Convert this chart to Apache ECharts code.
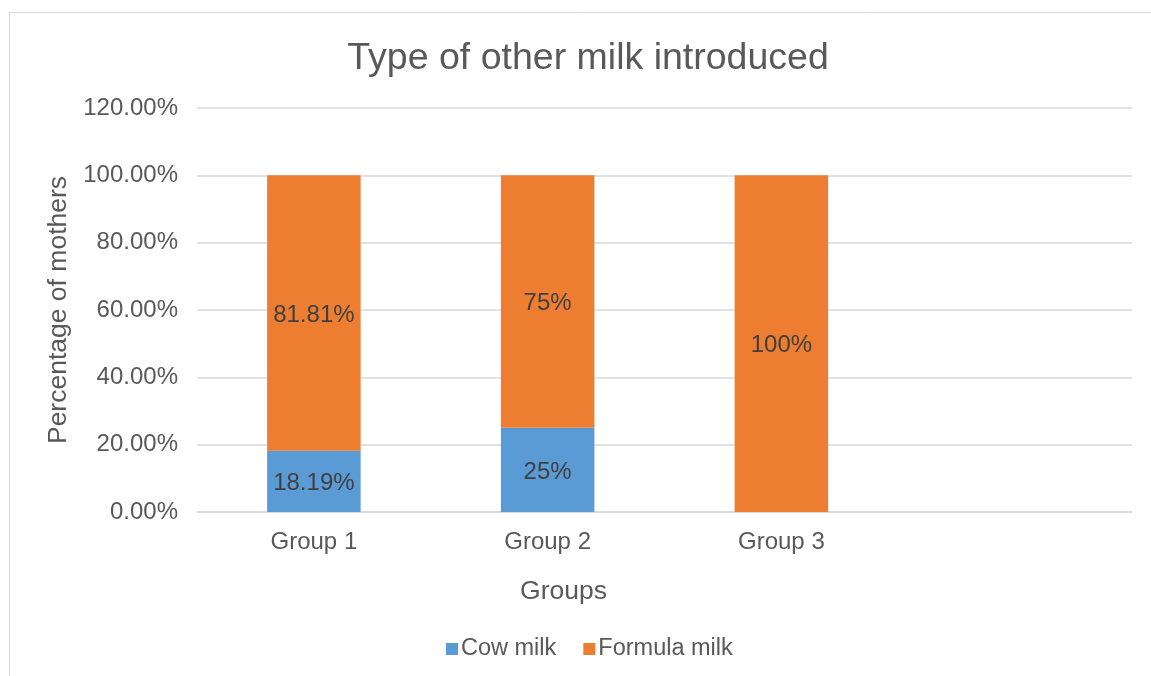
<!DOCTYPE html>
<html>
<head>
<meta charset="utf-8">
<script src="https://cdn.jsdelivr.net/npm/echarts@6/dist/echarts.min.js"></script>
<style>
  html, body { margin: 0; padding: 0; background: #fff; }
  #chart { width: 1151px; height: 676px; }
</style>
</head>
<body>
<div id="chart"></div>
<script>
// categories (the fourth slot is empty in the original)
const groups = ['Group 1', 'Group 2', 'Group 3', ''];
const cowMilk = [18.19, 25, null, null];
const formulaMilk = [81.81, 75, 100, null];
const yTicks = [0, 20, 40, 60, 80, 100, 120];

const txt = '#595959';
const font = 'Liberation Sans, Arial, sans-serif';

let myChart = echarts.init(document.getElementById('chart'));

function barLabel(p) {
  // keep Excel's label text: no trailing zeros
  return p.value == null ? '' : p.value + '%';
}

let option = {
  animation: false,
  textStyle: { fontFamily: font },
  graphic: [{
    type: 'rect',
    shape: { x: 9.5, y: 12.5, width: 1200, height: 700 },
    style: { fill: 'none', stroke: '#D9D9D9', lineWidth: 1 },
    silent: true,
  }],
  title: {
    text: 'Type of other milk introduced',
    left: 583,
    textAlign: 'center',
    top: 35,
    textStyle: { color: txt, fontSize: 37.5, fontWeight: 'normal', fontFamily: font },
  },
  legend: {
    data: ['Cow milk', 'Formula milk'],
    bottom: 10,
    left: 441,
    icon: 'rect',
    itemWidth: 12,
    itemHeight: 12,
    itemGap: 27,
    textStyle: { color: txt, fontSize: 23.5, fontFamily: font, padding: [0, 0, 0, -2] },
  },
  grid: { left: 197, right: 19, top: 108, bottom: 164 },
  xAxis: {
    type: 'category',
    data: groups,
    name: 'Groups',
    nameLocation: 'middle',
    nameGap: 66,
    nameTextStyle: { color: txt, fontSize: 26.5, fontFamily: font, padding: [0, 202, 0, 0] },
    axisLine: { lineStyle: { color: '#D9D9D9', width: 1.5 } },
    axisTick: { show: false },
    axisLabel: { color: txt, fontSize: 24, margin: 18, fontFamily: font },
  },
  yAxis: {
    type: 'value',
    min: yTicks[0],
    max: yTicks[yTicks.length - 1],
    interval: 20,
    name: 'Percentage of mothers',
    nameLocation: 'middle',
    nameGap: 124,
    nameTextStyle: { color: txt, fontSize: 26.5, fontFamily: font },
    axisLine: { show: false },
    axisTick: { show: false },
    axisLabel: {
      color: txt, fontSize: 24, margin: 19, fontFamily: font,
      formatter: (v) => v.toFixed(2) + '%',
    },
    splitLine: { lineStyle: { color: '#D9D9D9', width: 1.5 } },
  },
  series: [
    {
      name: 'Cow milk',
      type: 'bar',
      stack: 'milk',
      barWidth: '40%',
      data: cowMilk,
      itemStyle: { color: '#5B9BD5' },
      label: { show: true, position: 'inside', offset: [0, 2], color: '#404040', fontSize: 24, fontFamily: font, formatter: barLabel },
    },
    {
      name: 'Formula milk',
      type: 'bar',
      stack: 'milk',
      barWidth: '40%',
      data: formulaMilk,
      itemStyle: { color: '#ED7D31' },
      label: { show: true, position: 'inside', offset: [0, 2], color: '#404040', fontSize: 24, fontFamily: font, formatter: barLabel },
    },
  ],
};
myChart.setOption(option);
</script>
</body>
</html>
